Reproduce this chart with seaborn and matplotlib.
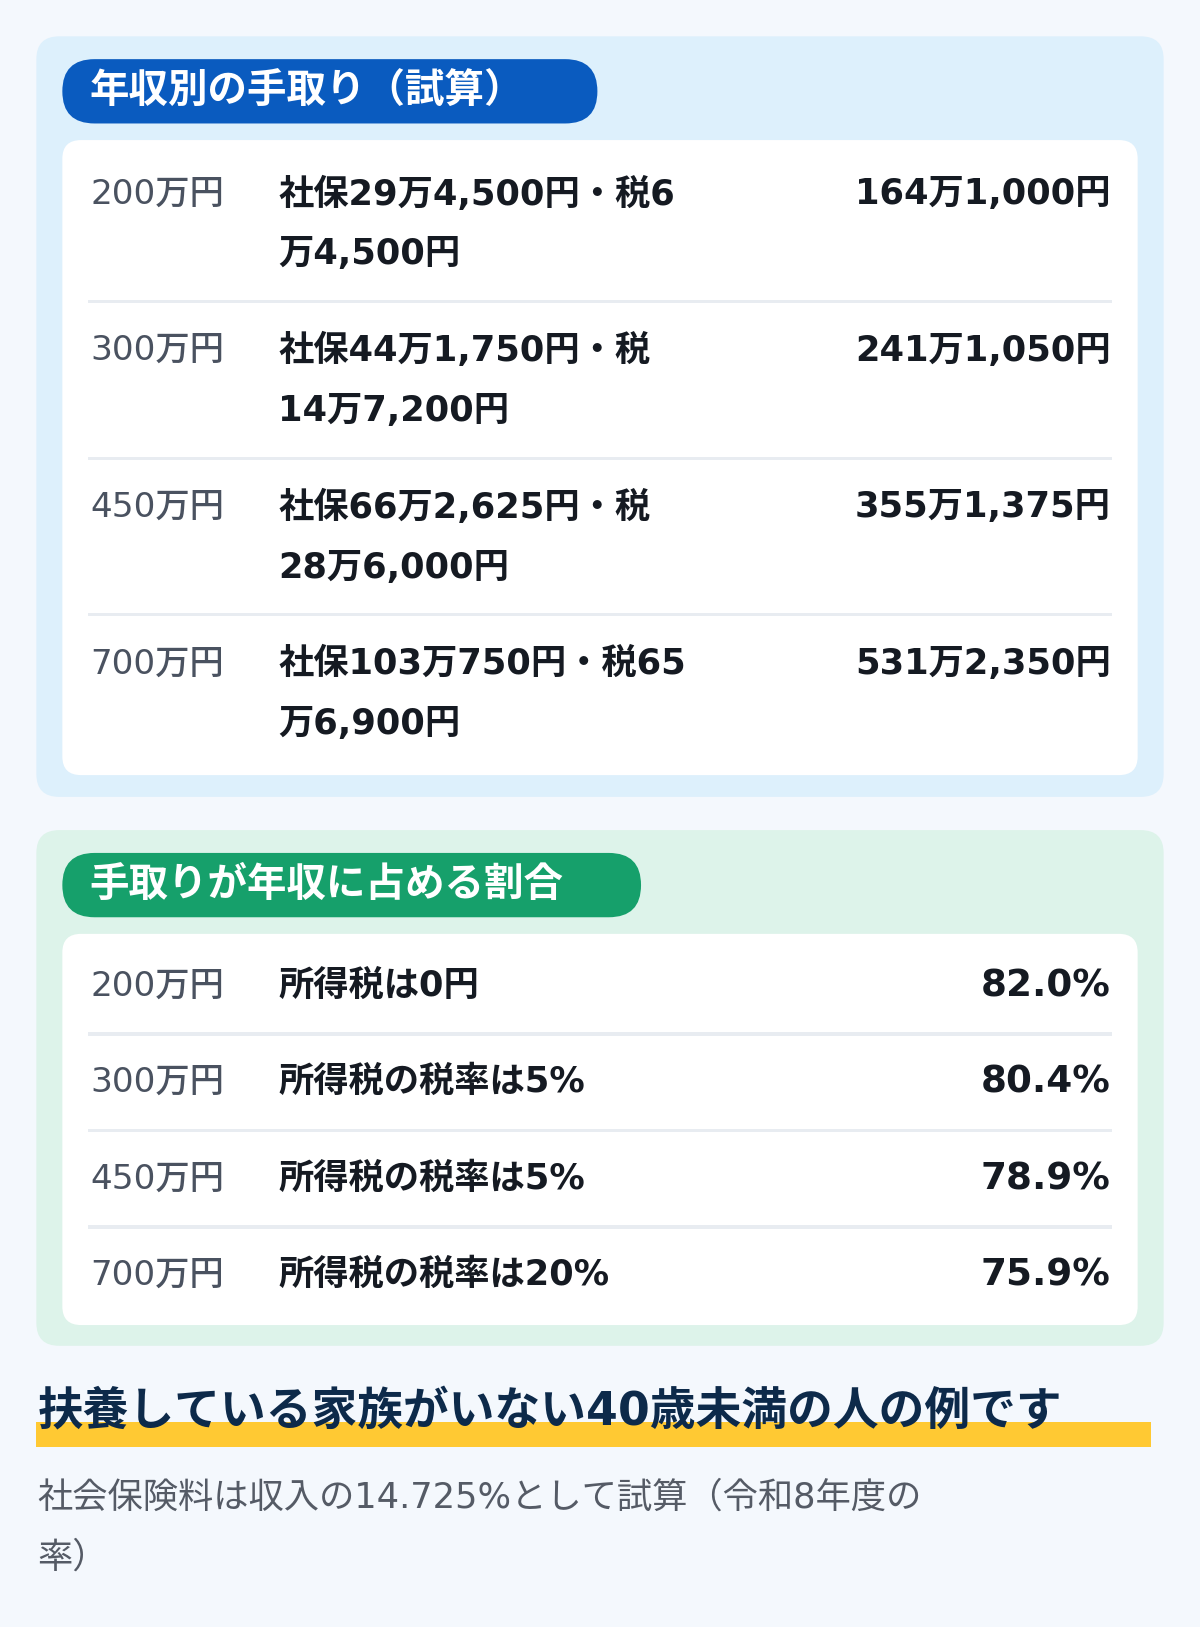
import matplotlib
matplotlib.use("Agg")
import matplotlib.pyplot as plt
from matplotlib.patches import FancyBboxPatch, Rectangle
import seaborn as sns

sns.set_theme(style="white")
plt.rcParams['font.family'] = ['DejaVu Sans', 'Noto Sans CJK JP']

# ---- data ----
incomes = ["200万円", "300万円", "450万円", "700万円"]
deduction_line1 = ["社保29万4,500円・税6", "社保44万1,750円・税", "社保66万2,625円・税", "社保103万750円・税65"]
deduction_line2 = ["万4,500円", "14万7,200円", "28万6,000円", "万6,900円"]
take_home = ["164万1,000円", "241万1,050円", "355万1,375円", "531万2,350円"]
tax_notes = ["所得税は0円", "所得税の税率は5%", "所得税の税率は5%", "所得税の税率は20%"]
ratios = [82.0, 80.4, 78.9, 75.9]
title1 = "年収別の手取り（試算）"
title2 = "手取りが年収に占める割合"
footer_title = "扶養している家族がいない40歳未満の人の例です"
footer_note = ["社会保険料は収入の14.725%として試算（令和8年度の", "率）"]

W, H = 1155, 1568
fig = plt.figure(figsize=(12, 16.27), dpi=100)
ax = fig.add_axes([0, 0, 1, 1])
ax.set_xlim(0, W); ax.set_ylim(H, 0); ax.axis("off")
fig.patch.set_facecolor("#F4F8FD")

def fs(px):
    return px * 1.039 * 0.72

def rbox(x0, y0, x1, y1, color, r):
    ax.add_patch(FancyBboxPatch((x0, y0), x1 - x0, y1 - y0,
                 boxstyle=f"round,pad=0,rounding_size={r}", fc=color, ec="none"))

GRAY = "#4A5260"; DARK = "#151A22"

# panel 1
rbox(35, 35, 1120, 768, "#DDF0FC", 22)
rbox(60, 57, 575, 119, "#0A5BBF", 31)
ax.text(86, 89, title1, color="white", fontsize=fs(38), fontweight="bold", va="center")
rbox(60, 135, 1095, 747, "white", 18)
row_y = [187, 338, 489, 640]
for i, y in enumerate(row_y):
    ax.text(87, y, incomes[i], color=GRAY, fontsize=fs(33), fontweight="medium", va="center")
    ax.text(268, y, deduction_line1[i], color=DARK, fontsize=fs(34), fontweight="bold", va="center")
    ax.text(268, y + 58, deduction_line2[i], color=DARK, fontsize=fs(34), fontweight="bold", va="center")
    ax.text(1069, y, take_home[i], color=DARK, fontsize=fs(34), fontweight="bold", va="center", ha="right")
    if i < 3:
        ax.add_patch(Rectangle((85, y + 102), 985, 3, fc="#E8ECF1", ec="none"))

# panel 2
rbox(35, 800, 1120, 1297, "#DDF3EA", 22)
rbox(60, 822, 617, 884, "#16A06B", 31)
ax.text(86, 853, title2, color="white", fontsize=fs(38), fontweight="bold", va="center")
rbox(60, 900, 1095, 1277, "white", 18)
row_y2 = [950, 1043, 1136, 1229]
for i, y in enumerate(row_y2):
    ax.text(87, y, incomes[i], color=GRAY, fontsize=fs(33), fontweight="medium", va="center")
    ax.text(268, y, tax_notes[i], color=DARK, fontsize=fs(34), fontweight="bold", va="center")
    ax.text(1069, y, f"{ratios[i]:.1f}%", color=DARK, fontsize=fs(36), fontweight="bold", va="center", ha="right")
    if i < 3:
        ax.add_patch(Rectangle((85, y + 45), 985, 3, fc="#E8ECF1", ec="none"))

# footer
ax.add_patch(Rectangle((35, 1370), 1073, 25, fc="#FFC933", ec="none"))
ax.text(36, 1362, footer_title, color="#0D2A4A", fontsize=fs(44), fontweight="bold", va="center")
for j, line in enumerate(footer_note):
    ax.text(36, 1443 + j * 58, line, color="#555B66", fontsize=fs(34), va="center")

fig.savefig("out.png", dpi=100, facecolor=fig.get_facecolor())
